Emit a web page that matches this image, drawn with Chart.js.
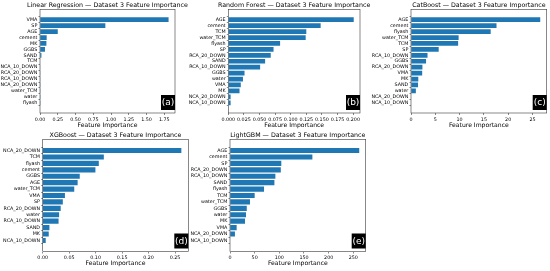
<!DOCTYPE html>
<html>
<head>
<meta charset="utf-8">
<script src="https://cdn.jsdelivr.net/npm/chart.js@4.4.1/dist/chart.umd.min.js"></script>
<style>
html, body { margin: 0; padding: 0; background: #fff; }
body { width: 550px; height: 271px; position: relative; overflow: hidden; }
canvas { position: absolute; }
</style>
</head>
<body>
<canvas id="lr"></canvas>
<canvas id="rf"></canvas>
<canvas id="cb"></canvas>
<canvas id="xgb"></canvas>
<canvas id="lgb"></canvas>
<script>
// feature order is top -> bottom as plotted
const lrFeatures = ['VMA','SP','AGE','cement','MK','GGBS','SAND','TCM','NCA_10_DOWN','RCA_20_DOWN','RCA_10_DOWN','NCA_20_DOWN','water_TCM','water','flyash'];
const lrValues = [1.81, 0.92, 0.25, 0.094, 0.09, 0.07, 0.02, 0.004, 0.003, 0.002, 0.002, 0.001, 0.001, 0.0005, 0.0003];
const lrTicks = [0, 0.25, 0.5, 0.75, 1.0, 1.25, 1.5, 1.75];

const rfFeatures = ['AGE','cement','TCM','water_TCM','flyash','SP','RCA_20_DOWN','SAND','RCA_10_DOWN','GGBS','water','VMA','MK','NCA_20_DOWN','NCA_10_DOWN'];
const rfValues = [0.201, 0.148, 0.125, 0.124, 0.083, 0.0725, 0.068, 0.059, 0.051, 0.026, 0.0235, 0.020, 0.018, 0.0037, 0.0037];
const rfTicks = [0, 0.025, 0.05, 0.075, 0.1, 0.125, 0.15, 0.175, 0.2];

const cbFeatures = ['AGE','cement','flyash','water_TCM','TCM','SP','RCA_10_DOWN','GGBS','RCA_20_DOWN','VMA','MK','SAND','water','NCA_20_DOWN','NCA_10_DOWN'];
const cbValues = [26.6, 17.6, 16.4, 9.8, 9.7, 5.7, 3.4, 3.1, 2.35, 2.3, 1.5, 1.45, 1.0, 0, 0];
const cbTicks = [0, 5, 10, 15, 20, 25];

const xgbFeatures = ['NCA_20_DOWN','TCM','flyash','cement','GGBS','AGE','water_TCM','VMA','SP','RCA_20_DOWN','water','RCA_10_DOWN','SAND','MK','NCA_10_DOWN'];
const xgbValues = [0.262, 0.1155, 0.106, 0.0996, 0.070, 0.066, 0.0596, 0.042, 0.038, 0.034, 0.031, 0.030, 0.0127, 0.0114, 0.0057];
const xgbTicks = [0, 0.05, 0.1, 0.15, 0.2, 0.25];

const lgbFeatures = ['AGE','cement','SP','RCA_20_DOWN','RCA_10_DOWN','SAND','flyash','TCM','water_TCM','GGBS','water','MK','VMA','NCA_20_DOWN','NCA_10_DOWN'];
const lgbValues = [262, 167, 104, 103, 92, 90, 69, 50, 40.5, 34, 32.4, 30.4, 13.5, 10, 0];
const lgbTicks = [0, 50, 100, 150, 200, 250];

const FONT = '"DejaVu Sans", "Liberation Sans", sans-serif';
const BLUE = '#1f77b4';
const SPINE = '#3a3a3a';

// frame, title and the black panel tag
const panelDecor = {
    id: 'panelDecor',
    afterDraw(chart, args, opts) {
        const ctx = chart.ctx;
        const a = chart.chartArea;
        ctx.save();
        ctx.strokeStyle = SPINE;
        ctx.lineWidth = 0.6;
        ctx.strokeRect(a.left, a.top, a.right - a.left, a.bottom - a.top);

        ctx.fillStyle = '#000';
        ctx.font = '6.3px ' + FONT;
        ctx.textAlign = 'center';
        ctx.textBaseline = 'middle';
        ctx.fillText(opts.title, (a.left + a.right) / 2, a.top - 4);

        ctx.fillRect(a.right - 14, a.bottom - 18, 14, 15);
        ctx.fillStyle = '#fff';
        ctx.font = '9px ' + FONT;
        ctx.fillText(opts.tag, a.right - 7, a.bottom - 10.3);
        ctx.restore();
    }
};

function makePanel(id, title, tag, features, values, ticks, decimals, cv, plot, labelPad) {
    const el = document.getElementById(id);
    el.width = cv.w; el.height = cv.h;
    el.style.left = cv.x + 'px'; el.style.top = cv.y + 'px';
    el.style.width = cv.w + 'px'; el.style.height = cv.h + 'px';

    const data = values.map((v, i) => ({ x: v, y: i }));

    return new Chart(el.getContext('2d'), {
        type: 'bar',
        data: {
            datasets: [{
                data: data,
                backgroundColor: BLUE,
                borderWidth: 0,
                barPercentage: 0.8,
                categoryPercentage: 1.0,
            }]
        },
        options: {
            indexAxis: 'y',
            responsive: false,
            animation: false,
            layout: {
                padding: { left: 0, top: plot.top - cv.y, right: cv.x + cv.w - plot.right, bottom: 0 }
            },
            plugins: {
                legend: { display: false },
                tooltip: { enabled: false },
                panelDecor: { title: title, tag: tag },
            },
            scales: {
                x: {
                    type: 'linear',
                    min: 0,
                    max: Math.max(...values) * 1.05,
                    afterBuildTicks: s => { s.ticks = ticks.map(v => ({ value: v })); },
                    afterFit: s => { s.height = cv.y + cv.h - plot.bottom; },
                    border: { display: false },
                    grid: { drawOnChartArea: false, tickLength: 2, color: SPINE, lineWidth: 0.6 },
                    ticks: {
                        font: { family: FONT, size: 4.8 },
                        color: '#000',
                        padding: 1.5,
                        maxRotation: 0,
                        autoSkip: false,
                        callback: v => Number(v).toFixed(decimals),
                    },
                    title: {
                        display: true,
                        text: 'Feature Importance',
                        font: { family: FONT, size: 6.1 },
                        color: '#000',
                        padding: { top: 0, bottom: labelPad },
                    },
                },
                y: {
                    type: 'linear',
                    reverse: true,
                    min: -1.14,
                    max: features.length - 1 + 1.14,
                    afterBuildTicks: s => { s.ticks = features.map((f, i) => ({ value: i })); },
                    afterFit: s => { s.width = plot.left - cv.x; },
                    border: { display: false },
                    grid: { drawOnChartArea: false, tickLength: 1.5, color: SPINE, lineWidth: 0.6 },
                    ticks: {
                        font: { family: FONT, size: 4.8 },
                        color: '#000',
                        padding: 1.2,
                        autoSkip: false,
                        callback: v => features[v],
                    },
                },
            },
        },
        plugins: [panelDecor],
    });
}

makePanel('lr', 'Linear Regression \u2014 Dataset 3 Feature Importance', '(a)', lrFeatures, lrValues, lrTicks, 2,
    { x: 0, y: 0, w: 200, h: 135 }, { left: 40, top: 9.5, right: 175, bottom: 113 }, 6.3);
makePanel('rf', 'Random Forest \u2014 Dataset 3 Feature Importance', '(b)', rfFeatures, rfValues, rfTicks, 3,
    { x: 180, y: 0, w: 190, h: 135 }, { left: 228.3, top: 9.5, right: 360, bottom: 113 }, 6.3);
makePanel('cb', 'CatBoost \u2014 Dataset 3 Feature Importance', '(c)', cbFeatures, cbValues, cbTicks, 0,
    { x: 362, y: 0, w: 188, h: 135 }, { left: 411, top: 9.5, right: 546.7, bottom: 113 }, 6.3);
makePanel('xgb', 'XGBoost \u2014 Dataset 3 Feature Importance', '(d)', xgbFeatures, xgbValues, xgbTicks, 2,
    { x: 0, y: 130, w: 200, h: 141 }, { left: 42.7, top: 139.5, right: 188.3, bottom: 251.5 }, 3.8);
makePanel('lgb', 'LightGBM \u2014 Dataset 3 Feature Importance', '(e)', lgbFeatures, lgbValues, lgbTicks, 0,
    { x: 182, y: 130, w: 200, h: 141 }, { left: 230, top: 139.5, right: 365.7, bottom: 251.5 }, 3.8);
</script>
</body>
</html>
